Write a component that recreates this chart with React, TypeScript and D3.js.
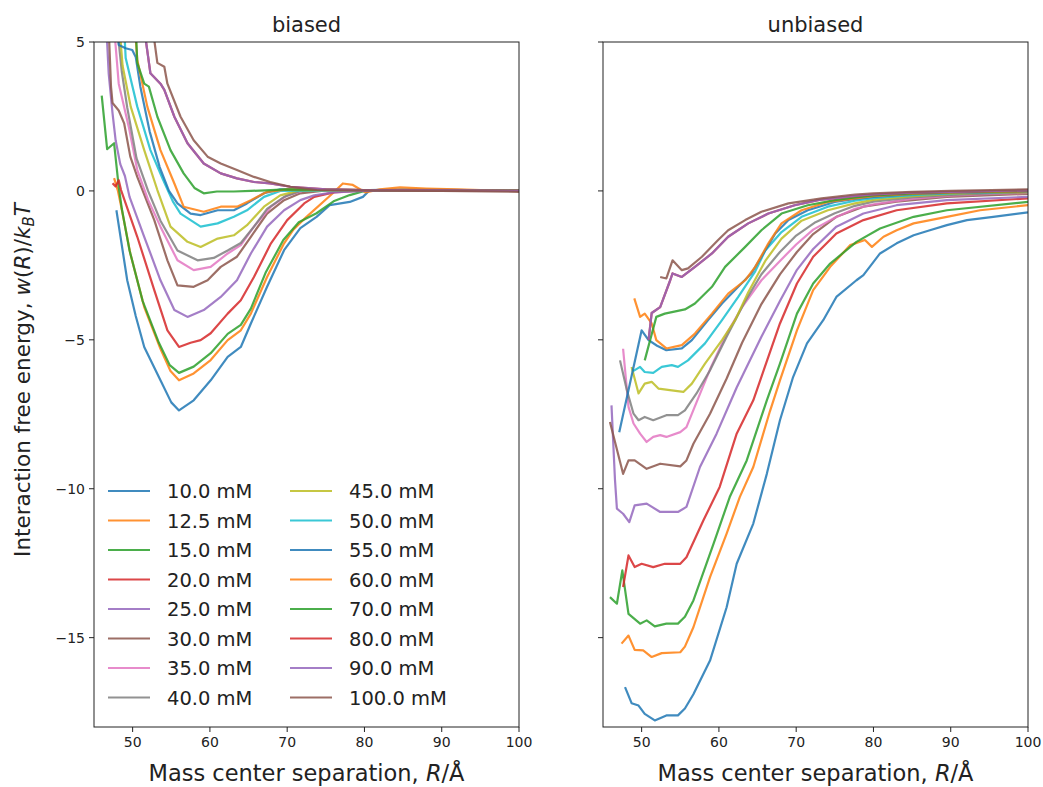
import React, { useEffect, useRef } from "react";
import * as d3 from "d3";

type Pt = [number, number];

const concentrations = ["10.0 mM","12.5 mM","15.0 mM","20.0 mM","25.0 mM","30.0 mM","35.0 mM","40.0 mM","45.0 mM","50.0 mM","55.0 mM","60.0 mM","70.0 mM","80.0 mM","90.0 mM","100.0 mM"];
const colors = ["#1f77b4","#ff7f0e","#2ca02c","#d62728","#9467bd","#8c564b","#e377c2","#7f7f7f","#bcbd22","#17becf","#1f77b4","#ff7f0e","#2ca02c","#d62728","#9467bd","#8c564b"];
const xTicks = [50, 60, 70, 80, 90, 100];
const yTicks = [5, 0, -5, -10, -15];

// ---------- biased ----------
const b10: Pt[] = [[47.9,-0.65],[49.3,-3.0],[50.4,-4.2],[51.5,-5.24],[53.6,-6.36],[55,-7.1],[56,-7.37],[57.9,-7.03],[60.1,-6.36],[62.3,-5.57],[64,-5.24],[65.3,-4.45],[67.4,-3.22],[69.6,-1.99],[71.7,-1.25],[73.8,-0.87],[75.5,-0.48],[78.1,-0.37],[79.8,-0.2],[80.7,0.03],[85,0.05],[90,0.04],[95,0.02],[100,0]];
const b12: Pt[] = [[47.6,0.43],[48.1,0.0],[48.5,-0.5],[49.7,-2.1],[51.5,-3.9],[53.6,-5.3],[54.9,-6.05],[56,-6.36],[57.9,-6.13],[60.1,-5.68],[62.3,-5.01],[64,-4.68],[65.3,-4.12],[67.4,-2.89],[69.6,-1.76],[70.8,-1.3],[72.5,-0.87],[75.9,-0.08],[77.2,0.25],[78.5,0.2],[80.1,-0.05],[82,0.05],[84.6,0.12],[88,0.08],[92,0.05],[96,0.02],[100,0]];
const b15: Pt[] = [[46,3.2],[46.7,1.4],[47.6,1.6],[48.2,0.14],[48.6,-0.6],[49.6,-2.0],[51.3,-3.7],[53.4,-5.1],[54.8,-5.85],[56,-6.11],[57.9,-5.9],[60.1,-5.45],[62.3,-4.8],[64,-4.5],[65.3,-3.95],[67.2,-2.75],[69.5,-1.65],[71.5,-1.05],[73.8,-0.75],[76,-0.35],[78.1,-0.14],[80,0],[85,0.03],[90,0.02],[100,0]];
const b20: Pt[] = [[47.4,0.26],[47.8,0.15],[48.2,0.36],[48.5,0.03],[50.6,-1.54],[52.8,-3.33],[54.5,-4.68],[56,-5.24],[57.5,-5.1],[58.8,-5.01],[60.1,-4.78],[62.3,-4.12],[64,-3.67],[65.7,-2.89],[67.9,-1.76],[70,-0.98],[72.2,-0.42],[73.5,-0.2],[76,-0.05],[80,0.02],[90,0.02],[100,0]];
const b25: Pt[] = [[46.6,5.5],[46.9,3.95],[47.4,2.6],[47.8,1.7],[48.4,0.9],[49.0,0.5],[49.6,-0.2],[51.5,-1.54],[53.6,-3.0],[55.4,-4.0],[57.1,-4.23],[59.2,-4.0],[61.4,-3.56],[63.5,-3.0],[65.3,-2.1],[67.4,-1.2],[69.6,-0.65],[71.7,-0.31],[73.5,-0.15],[76,-0.05],[80,0],[90,0.02],[100,0]];
const b30: Pt[] = [[46.9,5.5],[47.2,3.5],[47.4,2.95],[48.2,2.7],[48.9,2.27],[49.7,1.15],[50.6,0.47],[52.8,-0.98],[54.5,-2.33],[55.8,-3.17],[57.9,-3.22],[59.7,-3.0],[61.4,-2.55],[63.5,-2.21],[65.3,-1.54],[67.4,-0.76],[69.6,-0.31],[71.7,-0.08],[75,0.02],[80,0.03],[90,0.02],[100,0]];
const b35: Pt[] = [[47.6,5.5],[48.2,3.6],[49.5,2.15],[50.6,0.7],[52,-0.3],[53.6,-1.2],[55.8,-2.33],[57.9,-2.66],[60.1,-2.55],[62.3,-2.1],[64,-1.82],[65.7,-1.2],[67.9,-0.53],[70,-0.15],[72,0],[80,0.03],[90,0.02],[100,0]];
const b40: Pt[] = [[48.0,5.5],[48.6,4.0],[49.3,2.8],[50.5,1.1],[52,0.0],[53.6,-1.0],[55.8,-2.0],[58.4,-2.33],[60.5,-2.25],[62.3,-2.0],[64,-1.75],[65.7,-1.2],[67.4,-0.6],[69.6,-0.2],[71.7,0],[80,0.03],[90,0.02],[100,0]];
const b45: Pt[] = [[48.3,5.5],[48.7,4.2],[49.75,2.83],[51.5,1.37],[53.2,0.03],[54.9,-1.2],[57.1,-1.71],[58.8,-1.88],[61,-1.6],[63.1,-1.49],[64.8,-1.15],[67,-0.53],[69.1,-0.15],[71.3,0],[80,0.03],[90,0.02],[100,0]];
const b50: Pt[] = [[48.9,5.5],[49.1,4.46],[50.6,2.83],[52.3,1.37],[53.9,0.4],[55.2,-0.35],[56.2,-0.76],[58.8,-1.2],[61,-1.09],[63.1,-0.87],[64.8,-0.65],[67,-0.2],[69.1,0],[80,0.03],[90,0.02],[100,0]];
const b55: Pt[] = [[48.0,5.5],[48.2,4.9],[49.1,4.79],[49.95,4.73],[50.4,4.5],[51.0,3.5],[52.2,2.0],[53.5,0.8],[54.7,0.0],[55.8,-0.42],[57.5,-0.76],[58.8,-0.81],[61,-0.65],[63.1,-0.65],[64.8,-0.42],[67,-0.08],[69.1,0.05],[80,0.03],[90,0.02],[100,0]];
const b60: Pt[] = [[50.3,5.5],[50.6,4.4],[51.9,2.83],[53.6,1.37],[55.4,0.25],[56.6,-0.53],[59.2,-0.7],[61.4,-0.53],[63.5,-0.53],[65.3,-0.31],[67.4,-0.03],[70,0.05],[80,0.03],[90,0.02],[100,0]];
const b70: Pt[] = [[50.4,5.5],[50.6,4.3],[51.5,3.6],[52.1,3.5],[53.2,2.49],[54.9,1.37],[56.6,0.59],[58,0.1],[59.2,-0.08],[60.9,-0.02],[63.1,-0.02],[65.3,0.0],[70,0.05],[80,0.03],[90,0.02],[100,0]];
const b80: Pt[] = [[51.5,5.5],[51.7,5.07],[52.3,3.95],[53.6,3.6],[54.1,3.39],[55.4,2.49],[57.1,1.6],[59.2,0.92],[61.4,0.59],[63.5,0.42],[65.7,0.3],[67.8,0.25],[70.4,0.14],[75,0.05],[80,0.03],[90,0.02],[100,0]];
const b90: Pt[] = [[51.5,5.5],[51.7,5.07],[52.3,3.95],[53.6,3.6],[54.1,3.39],[55.4,2.49],[57.1,1.6],[59.2,0.92],[61.4,0.59],[63.5,0.42],[65.7,0.3],[67.8,0.25],[70.4,0.14],[75,0.05],[80,0.03],[90,0.02],[100,0]];
const b100: Pt[] = [[52.6,5.5],[52.8,5.07],[53.2,4.3],[54.1,4.17],[54.5,3.6],[56.2,2.49],[57.9,1.7],[59.7,1.15],[61.4,0.92],[63.5,0.7],[65.7,0.47],[67.8,0.3],[70.4,0.14],[73.8,0.03],[80,0.02],[90,0.0],[100,-0.03]];

// ---------- unbiased ----------
const u10: Pt[] = [[47.85,-16.66],[48.7,-17.2],[49.6,-17.28],[50.4,-17.56],[51.7,-17.78],[53.2,-17.61],[54.7,-17.61],[55.6,-17.38],[56.7,-16.9],[58.85,-15.77],[61,-13.98],[62.3,-12.52],[64.45,-11.17],[66.2,-9.5],[67.9,-7.7],[69.6,-6.25],[71.4,-5.12],[73.5,-4.34],[75.2,-3.56],[77.8,-3.0],[78.7,-2.83],[80.85,-2.1],[83,-1.76],[85.2,-1.49],[87.3,-1.32],[89.5,-1.15],[92.1,-0.98],[95.5,-0.87],[100,-0.72]];
const u12: Pt[] = [[47.4,-15.2],[48.3,-14.93],[49.1,-15.41],[50.2,-15.43],[51.3,-15.65],[52.6,-15.52],[55,-15.49],[55.6,-15.3],[56.7,-14.65],[58.85,-12.97],[61,-11.51],[62.7,-10.28],[64.45,-9.27],[66.6,-7.4],[67.9,-6.36],[70.1,-4.68],[72.2,-3.33],[74.4,-2.55],[77,-1.82],[78.9,-1.65],[79.8,-1.88],[81.3,-1.54],[83,-1.32],[85.2,-1.09],[89.5,-0.87],[93.8,-0.65],[100,-0.48]];
const u15: Pt[] = [[45.9,-13.64],[46.8,-13.86],[47.5,-12.74],[48.3,-14.2],[49.8,-14.53],[50.65,-14.42],[51.7,-14.62],[53.2,-14.53],[54.7,-14.53],[55.6,-14.3],[56.7,-13.75],[59.3,-11.85],[61.4,-10.28],[63.6,-9.05],[66.2,-7.03],[67.9,-5.8],[70.1,-4.12],[72.2,-3.11],[74.4,-2.44],[77.8,-1.71],[80.85,-1.26],[85.2,-0.87],[89.5,-0.65],[100,-0.37]];
const u20: Pt[] = [[47.6,-13.3],[48.3,-12.24],[49.1,-12.63],[50,-12.52],[51.5,-12.63],[53,-12.52],[55,-12.52],[55.8,-12.3],[58,-11.06],[60.1,-9.94],[62.3,-8.15],[64.45,-7.03],[67.9,-4.45],[70.1,-3.11],[72.2,-2.21],[75.2,-1.43],[78.7,-0.98],[83,-0.65],[89.5,-0.42],[100,-0.25]];
const u25: Pt[] = [[46.1,-7.2],[46.55,-9.7],[46.8,-10.67],[47.6,-10.84],[48.4,-11.12],[49.1,-10.56],[50.65,-10.5],[52.4,-10.78],[54.7,-10.78],[55.8,-10.61],[57.55,-9.27],[59.7,-8.15],[62.3,-6.6],[65.5,-4.9],[67.9,-3.7],[70.1,-2.65],[72.2,-1.95],[75.2,-1.2],[78.7,-0.76],[83,-0.48],[89.5,-0.31],[100,-0.2]];
const u30: Pt[] = [[45.9,-7.76],[47.6,-9.5],[48.3,-9.05],[49.1,-9.05],[50.65,-9.33],[52.4,-9.16],[55,-9.25],[55.8,-9.05],[56.7,-8.49],[58.85,-7.48],[61,-6.3],[63,-5.1],[65.5,-3.8],[67.9,-2.8],[70.1,-2.05],[72.2,-1.45],[75.2,-0.87],[78.7,-0.53],[83,-0.36],[89.5,-0.2],[100,-0.1]];
const u35: Pt[] = [[47.6,-5.3],[48.3,-7.25],[48.95,-7.81],[49.8,-8.15],[50.65,-8.43],[51.5,-8.26],[52.4,-8.2],[53.2,-8.26],[55,-8.1],[55.8,-7.93],[57.1,-7.1],[59,-5.9],[61,-4.8],[63,-3.9],[65.5,-3.0],[67.9,-2.35],[70,-1.8],[72.2,-1.3],[75,-0.9],[77.6,-0.6],[80,-0.45],[85,-0.27],[90,-0.16],[95,-0.1],[100,-0.07]];
const u40: Pt[] = [[47.2,-5.69],[48.1,-6.7],[48.95,-7.48],[49.6,-7.7],[50.4,-7.59],[51.5,-7.7],[53.2,-7.53],[54.7,-7.53],[55.6,-7.37],[57.1,-6.8],[58.85,-6.02],[61,-4.9],[63.4,-3.7],[65.5,-2.8],[67.9,-2.05],[70,-1.5],[72.5,-1.05],[75,-0.75],[77.6,-0.5],[80,-0.36],[85,-0.22],[90,-0.13],[95,-0.08],[100,-0.05]];
const u45: Pt[] = [[48.7,-5.91],[49.6,-6.8],[50.4,-6.47],[51.3,-6.41],[52.2,-6.64],[53.9,-6.7],[55.4,-6.75],[56.5,-6.47],[58.2,-5.8],[60.4,-5.01],[62.1,-4.34],[63.8,-3.4],[66,-2.35],[68.1,-1.6],[70.7,-1.0],[74.1,-0.65],[77.6,-0.42],[80,-0.3],[85,-0.18],[90,-0.1],[95,-0.06],[100,-0.04]];
const u50: Pt[] = [[48.9,-6.05],[49.8,-5.91],[50.4,-6.08],[51.5,-6.11],[52.6,-5.91],[53.9,-5.85],[54.7,-5.91],[56,-5.69],[58.2,-5.12],[60.4,-4.34],[62.5,-3.56],[64.7,-2.7],[66,-2.0],[68.1,-1.38],[70.7,-0.87],[74.1,-0.53],[77.6,-0.33],[80,-0.24],[85,-0.14],[90,-0.08],[95,-0.05],[100,-0.03]];
const u55: Pt[] = [[47.1,-8.1],[50,-4.68],[50.9,-5.01],[52,-5.2],[53.2,-5.35],[55.2,-5.29],[56.5,-5.01],[58.6,-4.34],[60.4,-3.78],[62.5,-3.22],[64.2,-2.77],[65.5,-2.21],[67.3,-1.43],[69,-0.98],[71.5,-0.65],[75,-0.37],[77.6,-0.27],[80,-0.2],[85,-0.11],[90,-0.06],[95,-0.04],[100,-0.02]];
const u60: Pt[] = [[49.05,-3.61],[49.8,-4.23],[50.4,-4.12],[51.3,-4.45],[51.9,-5.01],[53.2,-5.29],[55.2,-5.18],[56.9,-4.79],[59.1,-4.12],[61.2,-3.45],[63.4,-3.0],[64.7,-2.55],[66.4,-1.76],[68.1,-1.09],[70.7,-0.65],[74.1,-0.37],[77.6,-0.25],[80,-0.18],[85,-0.1],[90,-0.06],[95,-0.03],[100,-0.02]];
const u70: Pt[] = [[50.4,-5.69],[51.9,-4.23],[53,-4.12],[55.6,-3.98],[56.9,-3.78],[59.1,-3.22],[60.8,-2.55],[63.4,-1.88],[65.5,-1.32],[68.1,-0.76],[71.5,-0.48],[75,-0.31],[77.6,-0.22],[80,-0.15],[85,-0.08],[90,-0.04],[95,-0.02],[100,0]];
const u80: Pt[] = [[50.9,-5.0],[51.3,-4.1],[52.4,-3.9],[53.7,-3.0],[54,-2.77],[55.2,-2.89],[56.9,-2.55],[59.1,-2.1],[61.2,-1.54],[63.8,-1.09],[66.4,-0.76],[69.8,-0.48],[73,-0.3],[77.6,-0.17],[80,-0.12],[85,-0.06],[90,-0.03],[100,0.02]];
const u90: Pt[] = [[50.9,-5.0],[51.3,-4.1],[52.4,-3.9],[53.7,-3.0],[54,-2.77],[55.2,-2.89],[56.9,-2.55],[59.1,-2.1],[61.2,-1.54],[63.8,-1.09],[66.4,-0.76],[69.8,-0.48],[73,-0.3],[77.6,-0.17],[80,-0.12],[85,-0.06],[90,-0.03],[100,0.02]];
const u100: Pt[] = [[52.4,-2.89],[53.2,-2.94],[54,-2.33],[55.2,-2.66],[56,-2.6],[57.8,-2.21],[59.9,-1.65],[61.2,-1.32],[63.4,-0.98],[65.5,-0.7],[69,-0.42],[73.3,-0.25],[77.6,-0.12],[80,-0.08],[85,-0.03],[90,0],[100,0.05]];

const biased = [b10,b12,b15,b20,b25,b30,b35,b40,b45,b50,b55,b60,b70,b80,b90,b100];
const unbiased = [u10,u12,u15,u20,u25,u30,u35,u40,u45,u50,u55,u60,u70,u80,u90,u100];

const W = 1043, H = 787;
const top = 42, bottom = 727;
const panels = [
  { title: "biased", left: 94, right: 519, data: biased, labels: true },
  { title: "unbiased", left: 603, right: 1028, data: unbiased, labels: false },
];

export default function App() {
  const ref = useRef<SVGSVGElement>(null);
  useEffect(() => {
    const svg = d3.select(ref.current);
    svg.selectAll("*").remove();
    const font = "DejaVu Sans, sans-serif";
    const y = d3.scaleLinear().domain([-18, 5]).range([bottom, top]);

    panels.forEach((p, pi) => {
      const x = d3.scaleLinear().domain([45, 100]).range([p.left, p.right]);
      const g = svg.append("g");
      const clipId = "clip" + pi;
      svg.append("defs").append("clipPath").attr("id", clipId)
        .append("rect").attr("x", p.left).attr("y", top).attr("width", p.right - p.left).attr("height", bottom - top);

      const line = d3.line<Pt>().x(d => x(d[0])).y(d => y(d[1]));
      const lg = g.append("g").attr("clip-path", `url(#${clipId})`);
      p.data.forEach((s, i) => {
        lg.append("path").attr("d", line(s) as string).attr("fill", "none")
          .attr("stroke", colors[i]).attr("stroke-width", 2.2).attr("stroke-opacity", 0.85)
          .attr("stroke-linejoin", "round");
      });

      // frame
      g.append("rect").attr("x", p.left).attr("y", top).attr("width", p.right - p.left)
        .attr("height", bottom - top).attr("fill", "none").attr("stroke", "#222").attr("stroke-width", 1);

      // x ticks
      xTicks.forEach(t => {
        const xx = x(t);
        g.append("line").attr("x1", xx).attr("x2", xx).attr("y1", bottom).attr("y2", bottom + 5).attr("stroke", "#222");
        g.append("text").attr("x", xx).attr("y", bottom + 20).attr("text-anchor", "middle")
          .attr("font-family", font).attr("font-size", 14).attr("fill", "#222").text(String(t));
      });
      // y ticks
      yTicks.forEach(t => {
        const yy = y(t);
        g.append("line").attr("x1", p.left - 5).attr("x2", p.left).attr("y1", yy).attr("y2", yy).attr("stroke", "#222");
        if (p.labels) {
          g.append("text").attr("x", p.left - 9).attr("y", yy + 5).attr("text-anchor", "end")
            .attr("font-family", font).attr("font-size", 14).attr("fill", "#222").text(t < 0 ? "\u2212" + Math.abs(t) : String(t));
        }
      });
      // title
      g.append("text").attr("x", (p.left + p.right) / 2).attr("y", 32).attr("text-anchor", "middle")
        .attr("font-family", font).attr("font-size", 21).attr("fill", "#222").text(p.title);
      // x label
      const xl = g.append("text").attr("x", (p.left + p.right) / 2).attr("y", 781).attr("text-anchor", "middle")
        .attr("font-family", font).attr("font-size", 22.5).attr("fill", "#222");
      xl.append("tspan").text("Mass center separation, ");
      xl.append("tspan").attr("font-style", "italic").text("R");
      xl.append("tspan").text("/\u00C5");
    });

    // y label
    const yl = svg.append("text").attr("transform", "translate(30,380) rotate(-90)").attr("text-anchor", "middle")
      .attr("font-family", "DejaVu Sans, sans-serif").attr("font-size", 21.5).attr("fill", "#222");
    yl.append("tspan").text("Interaction free energy, ");
    yl.append("tspan").attr("font-style", "italic").text("w");
    yl.append("tspan").text("(");
    yl.append("tspan").attr("font-style", "italic").text("R");
    yl.append("tspan").text(")/");
    yl.append("tspan").attr("font-style", "italic").text("k");
    yl.append("tspan").attr("font-size", 15).attr("font-style", "italic").attr("dy", 4).text("B");
    yl.append("tspan").attr("font-style", "italic").attr("dy", -4).text("T");

    // legend
    const leg = svg.append("g");
    concentrations.forEach((c, i) => {
      const col = Math.floor(i / 8), row = i % 8;
      const x0 = col === 0 ? 108 : 290;
      const yy = 491 + row * 29.5;
      leg.append("line").attr("x1", x0).attr("x2", x0 + 42).attr("y1", yy).attr("y2", yy)
        .attr("stroke", colors[i]).attr("stroke-width", 2.2).attr("stroke-opacity", 0.85);
      leg.append("text").attr("x", x0 + 59).attr("y", yy + 7).attr("font-family", "DejaVu Sans, sans-serif")
        .attr("font-size", 19.5).attr("fill", "#222").text(c);
    });
  }, []);
  return (
    <svg ref={ref} width={W} height={H} style={{ position: "absolute", left: 0, top: 0, background: "#fff" }} />
  );
}
